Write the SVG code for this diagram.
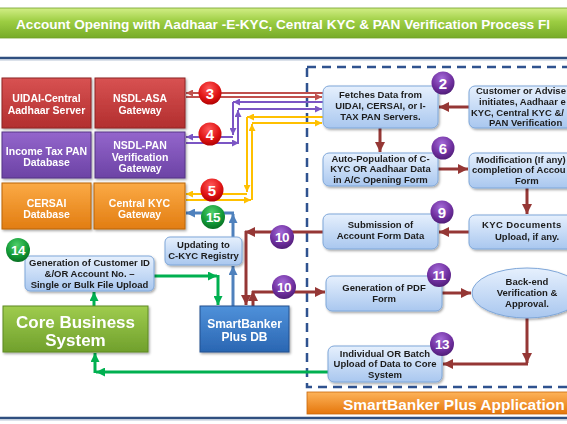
<svg xmlns="http://www.w3.org/2000/svg" width="567" height="424" viewBox="0 0 567 424">
<defs>
<style>
.t{font-family:"Liberation Sans",Arial,sans-serif;font-weight:bold;}
.wt{fill:#ffffff;font-size:10.5px;text-anchor:middle;}
.bt{fill:#1c1c1c;font-size:9.5px;}
.bc{text-anchor:middle;}
.num{fill:#ffffff;font-size:15px;text-anchor:middle;}
.num2{fill:#ffffff;font-size:13.5px;text-anchor:middle;letter-spacing:-0.6px;}
.lb{fill:url(#gBlue);stroke:#7fa7d9;stroke-width:1;}
.ln{fill:none;}
.red{stroke:#c0504d;stroke-width:2;}
.pur{stroke:#7b55c4;stroke-width:2;}
.yel{stroke:#ffc000;stroke-width:2;}
.blu{stroke:#4f81bd;stroke-width:3;}
.grn{stroke:#00b050;stroke-width:3;}
.mar{stroke:#953735;stroke-width:3;}
</style>
<linearGradient id="gTitle" x1="0" y1="0" x2="0" y2="1"><stop offset="0" stop-color="#d2ee86"/><stop offset="0.45" stop-color="#9ccd42"/><stop offset="1" stop-color="#77ab28"/></linearGradient>
<linearGradient id="gOrgBar" x1="0" y1="0" x2="0" y2="1"><stop offset="0" stop-color="#fdb35a"/><stop offset="1" stop-color="#e5760b"/></linearGradient>
<linearGradient id="gRed" x1="0" y1="0" x2="0" y2="1"><stop offset="0" stop-color="#d85252"/><stop offset="1" stop-color="#b22e2e"/></linearGradient>
<linearGradient id="gPur" x1="0" y1="0" x2="0" y2="1"><stop offset="0" stop-color="#9466cc"/><stop offset="1" stop-color="#6c43a5"/></linearGradient>
<linearGradient id="gOrg" x1="0" y1="0" x2="0" y2="1"><stop offset="0" stop-color="#fbaa45"/><stop offset="1" stop-color="#e27d12"/></linearGradient>
<linearGradient id="gBlue" x1="0" y1="0" x2="0" y2="1"><stop offset="0" stop-color="#e6f0fd"/><stop offset="1" stop-color="#a9c7ef"/></linearGradient>
<linearGradient id="gGrn" x1="0" y1="0" x2="0" y2="1"><stop offset="0" stop-color="#9fcc4e"/><stop offset="1" stop-color="#70a02c"/></linearGradient>
<linearGradient id="gDB" x1="0" y1="0" x2="0" y2="1"><stop offset="0" stop-color="#4f91da"/><stop offset="1" stop-color="#2a66b2"/></linearGradient>
<radialGradient id="cRed" cx="0.45" cy="0.3" r="0.75"><stop offset="0" stop-color="#ff5a5a"/><stop offset="0.6" stop-color="#e01414"/><stop offset="1" stop-color="#a80000"/></radialGradient>
<radialGradient id="cGrn" cx="0.45" cy="0.3" r="0.75"><stop offset="0" stop-color="#4fd06a"/><stop offset="0.6" stop-color="#139a37"/><stop offset="1" stop-color="#06671f"/></radialGradient>
<radialGradient id="cPur" cx="0.45" cy="0.3" r="0.75"><stop offset="0" stop-color="#a46ad8"/><stop offset="0.6" stop-color="#7030a0"/><stop offset="1" stop-color="#4a1a70"/></radialGradient>
<filter id="sh" x="-10%" y="-10%" width="130%" height="140%"><feDropShadow dx="1.2" dy="1.5" stdDeviation="1" flood-color="#000" flood-opacity="0.35"/></filter>
<marker id="aRed" viewBox="0 0 10 10" refX="10" refY="5" markerWidth="7" markerHeight="7" markerUnits="userSpaceOnUse" orient="auto"><path d="M0,0 L10,5 L0,10 z" fill="#c0504d"/></marker>
<marker id="aPur" viewBox="0 0 10 10" refX="10" refY="5" markerWidth="7" markerHeight="7" markerUnits="userSpaceOnUse" orient="auto"><path d="M0,0 L10,5 L0,10 z" fill="#7b55c4"/></marker>
<marker id="aYel" viewBox="0 0 10 10" refX="10" refY="5" markerWidth="7" markerHeight="7" markerUnits="userSpaceOnUse" orient="auto"><path d="M0,0 L10,5 L0,10 z" fill="#ffc000"/></marker>
<marker id="aBlu" viewBox="0 0 10 10" refX="10" refY="5" markerWidth="9" markerHeight="9" markerUnits="userSpaceOnUse" orient="auto"><path d="M0,0 L10,5 L0,10 z" fill="#4f81bd"/></marker>
<marker id="aGrn" viewBox="0 0 10 10" refX="10" refY="5" markerWidth="9" markerHeight="9" markerUnits="userSpaceOnUse" orient="auto"><path d="M0,0 L10,5 L0,10 z" fill="#00b050"/></marker>
<marker id="aMar" viewBox="0 0 10 10" refX="10" refY="5" markerWidth="10" markerHeight="10" markerUnits="userSpaceOnUse" orient="auto"><path d="M0,0 L10,5 L0,10 z" fill="#953735"/></marker>
</defs>

<rect x="0" y="0" width="567" height="424" fill="#ffffff"/>

<!-- title bar -->
<g id="title">
<rect x="-6" y="8" width="590" height="30" rx="4" fill="url(#gTitle)" stroke="#6f9e27" stroke-width="0.8"/>
<text class="t" x="16" y="28.5" font-size="13.6" fill="#ffffff">Account Opening with Aadhaar -E-KYC, Central KYC &amp; PAN Verification Process Fl</text>
</g>
<line x1="0" y1="58" x2="567" y2="58" stroke="#2f4f80" stroke-width="2.5"/>
<line x1="0" y1="60" x2="567" y2="60" stroke="#b7c4d6" stroke-width="1"/>
<line x1="0" y1="418" x2="567" y2="418" stroke="#2f4f80" stroke-width="2.5"/>
<line x1="0" y1="420" x2="567" y2="420" stroke="#b7c4d6" stroke-width="1"/>

<!-- dashed application boundary -->
<rect id="app-boundary" x="307" y="67" width="300" height="320" fill="none" stroke="#2f528f" stroke-width="2.5" stroke-dasharray="9,6"/>

<!-- connectors -->
<g id="connectors" class="ln">
<path class="red" d="M323,93 H186" marker-end="url(#aRed)"/>
<path class="red" d="M186,97 H322" marker-end="url(#aRed)"/>
<path class="pur" d="M323,102 H233" marker-end="url(#aPur)"/>
<path class="pur" d="M233,102 V135" marker-end="url(#aPur)"/>
<path class="pur" d="M233,137 H186" marker-end="url(#aPur)"/>
<path class="pur" d="M186,143 H239" marker-end="url(#aPur)"/>
<path class="pur" d="M238,143 V110" marker-end="url(#aPur)"/>
<path class="pur" d="M238,109 H322" marker-end="url(#aPur)"/>
<path class="yel" d="M323,117 H247" marker-end="url(#aYel)"/>
<path class="yel" d="M247,117 V192" marker-end="url(#aYel)"/>
<path class="yel" d="M247,194 H186" marker-end="url(#aYel)"/>
<path class="yel" d="M186,200 H251" marker-end="url(#aYel)"/>
<path class="yel" d="M252,200 V124" marker-end="url(#aYel)"/>
<path class="yel" d="M252,123 H322" marker-end="url(#aYel)"/>
<path class="blu" d="M233,237 V214" marker-end="url(#aBlu)"/>
<path class="blu" d="M234,213 H186" marker-end="url(#aBlu)"/>
<path class="blu" d="M233,306 V266" marker-end="url(#aBlu)"/>
<path class="grn" d="M154,276 H217" marker-end="url(#aGrn)"/>
<path class="grn" d="M218,275 V305" marker-end="url(#aGrn)"/>
<path class="grn" d="M94,306 V292" marker-end="url(#aGrn)"/>
<path class="grn" d="M328,372 H96" marker-end="url(#aGrn)"/>
<path class="grn" d="M95,373 V353" marker-end="url(#aGrn)"/>
<path class="mar" d="M469,107 H439" marker-end="url(#aMar)"/>
<path class="mar" d="M380,128 V152" marker-end="url(#aMar)"/>
<path class="mar" d="M438,169 H468" marker-end="url(#aMar)"/>
<path class="mar" d="M527,188 V214" marker-end="url(#aMar)"/>
<path class="mar" d="M469,232 H439" marker-end="url(#aMar)"/>
<path class="mar" d="M323,232 H245" marker-end="url(#aMar)"/>
<path class="mar" d="M246,231 V305" marker-end="url(#aMar)"/>
<path class="mar" d="M253,306 V291" marker-end="url(#aMar)"/>
<path class="mar" d="M252,292 H325" marker-end="url(#aMar)"/>
<path class="mar" d="M442,293 H471" marker-end="url(#aMar)"/>
<path class="mar" d="M527,318 V363" marker-end="url(#aMar)"/>
<path class="mar" d="M528,364 H443" marker-end="url(#aMar)"/>
</g>

<!-- left external systems -->
<g id="uidai" filter="url(#sh)">
<rect x="2" y="78" width="89" height="50" fill="url(#gRed)" stroke="#8e2424"/>
<text class="t wt" x="46.5" y="102">UIDAI-Central</text>
<text class="t wt" x="46.5" y="114">Aadhaar Server</text>
</g>
<g id="nsdl-asa" filter="url(#sh)">
<rect x="95" y="78" width="90" height="50" fill="url(#gRed)" stroke="#8e2424"/>
<text class="t wt" x="140" y="102">NSDL-ASA</text>
<text class="t wt" x="140" y="114">Gateway</text>
</g>
<g id="itax" filter="url(#sh)">
<rect x="2" y="132" width="89" height="46" fill="url(#gPur)" stroke="#553585"/>
<text class="t wt" x="46.5" y="155">Income Tax PAN</text>
<text class="t wt" x="46.5" y="166">Database</text>
</g>
<g id="nsdl-pan" filter="url(#sh)">
<rect x="95" y="132" width="90" height="46" fill="url(#gPur)" stroke="#553585"/>
<text class="t wt" x="140" y="149">NSDL-PAN</text>
<text class="t wt" x="140" y="161">Verification</text>
<text class="t wt" x="140" y="172">Gateway</text>
</g>
<g id="cersai" filter="url(#sh)">
<rect x="2" y="183" width="89" height="46" fill="url(#gOrg)" stroke="#b9650c"/>
<text class="t wt" x="46.5" y="207">CERSAI</text>
<text class="t wt" x="46.5" y="218">Database</text>
</g>
<g id="ckyc" filter="url(#sh)">
<rect x="94" y="183" width="91" height="46" fill="url(#gOrg)" stroke="#b9650c"/>
<text class="t wt" x="139.5" y="207">Central KYC</text>
<text class="t wt" x="139.5" y="218">Gateway</text>
</g>

<g id="updating" filter="url(#sh)">
<rect class="lb" x="165" y="237" width="77" height="28" rx="5"/>
<text class="t bt bc" x="203.5" y="248">Updating to</text>
<text class="t bt bc" x="203.5" y="259">C-KYC Registry</text>
</g>
<g id="gen-cust" filter="url(#sh)">
<rect class="lb" x="25" y="256" width="129" height="35" rx="5"/>
<text class="t bt bc" x="89.5" y="265.5">Generation of Customer ID</text>
<text class="t bt bc" x="89.5" y="276.5">&amp;/OR Account No. –</text>
<text class="t bt bc" x="89.5" y="287.5">Single or Bulk File Upload</text>
</g>
<g id="core" filter="url(#sh)">
<rect x="3" y="306" width="145" height="46" fill="url(#gGrn)" stroke="#5e8a25"/>
<text class="t" x="75.5" y="328" font-size="17" fill="#ffffff" text-anchor="middle">Core Business</text>
<text class="t" x="75.5" y="346" font-size="17" fill="#ffffff" text-anchor="middle">System</text>
</g>
<g id="db" filter="url(#sh)">
<rect x="200" y="306" width="89" height="46" fill="url(#gDB)" stroke="#22508f"/>
<text class="t" x="244.5" y="328" font-size="12" fill="#ffffff" text-anchor="middle">SmartBanker</text>
<text class="t" x="244.5" y="341" font-size="12" fill="#ffffff" text-anchor="middle">Plus DB</text>
</g>

<!-- application steps -->
<g id="fetch" filter="url(#sh)">
<rect class="lb" x="323" y="86" width="115" height="42" rx="6"/>
<text class="t bt bc" x="380.5" y="98">Fetches Data from</text>
<text class="t bt bc" x="380.5" y="109">UIDAI, CERSAI, or I-</text>
<text class="t bt bc" x="380.5" y="120">TAX PAN Servers.</text>
</g>
<g id="initiate" filter="url(#sh)">
<rect class="lb" x="469" y="86" width="140" height="42" rx="6"/>
<text class="t bt" x="476" y="93.5">Customer or Advise</text>
<text class="t bt" x="479" y="104.5">initiates, Aadhaar e</text>
<text class="t bt" x="471" y="115.5">KYC, Central KYC &amp;/</text>
<text class="t bt" x="489" y="126">PAN Verification</text>
</g>
<g id="autopop" filter="url(#sh)">
<rect class="lb" x="323" y="153" width="115" height="33" rx="6"/>
<text class="t bt bc" x="380.5" y="162">Auto-Population of C-</text>
<text class="t bt bc" x="380.5" y="172">KYC OR Aadhaar Data</text>
<text class="t bt bc" x="380.5" y="182.5">in A/C Opening Form</text>
</g>
<g id="modify" filter="url(#sh)">
<rect class="lb" x="469" y="153" width="140" height="35" rx="6"/>
<text class="t bt" x="476" y="162.5">Modification (If any)</text>
<text class="t bt" x="472" y="173">completion of Accou</text>
<text class="t bt" x="515" y="183.5">Form</text>
</g>
<g id="kycdocs" filter="url(#sh)">
<rect class="lb" x="469" y="215" width="140" height="34" rx="6"/>
<text class="t bt" x="482" y="228" letter-spacing="0.4">KYC Documents</text>
<text class="t bt" x="495" y="239.5">Upload, if any.</text>
</g>
<g id="submit" filter="url(#sh)">
<rect class="lb" x="323" y="214" width="115" height="35" rx="6"/>
<text class="t bt bc" x="380.5" y="228">Submission of</text>
<text class="t bt bc" x="380.5" y="239">Account Form Data</text>
</g>
<g id="pdf" filter="url(#sh)">
<rect class="lb" x="326" y="276" width="116" height="35" rx="6"/>
<text class="t bt bc" x="384" y="291">Generation of PDF</text>
<text class="t bt bc" x="384" y="302">Form</text>
</g>
<g id="verify" filter="url(#sh)">
<ellipse cx="527" cy="293" rx="55" ry="25" fill="url(#gBlue)" stroke="#7fa7d9"/>
<text class="t bt bc" x="527" y="284.5">Back-end</text>
<text class="t bt bc" x="527" y="296">Verification &amp;</text>
<text class="t bt bc" x="527" y="307">Approval.</text>
</g>
<g id="upload" filter="url(#sh)">
<rect class="lb" x="328" y="346" width="114" height="36" rx="6"/>
<text class="t bt bc" x="385" y="356.5">Individual OR Batch</text>
<text class="t bt bc" x="385" y="367">Upload of Data to Core</text>
<text class="t bt bc" x="385" y="377.5">System</text>
</g>

<g id="app-label">
<rect x="307" y="392" width="270" height="22" fill="url(#gOrgBar)" stroke="#c9680c" stroke-width="0.8"/>
<text class="t" x="343" y="410" font-size="15.5" fill="#ffffff">SmartBanker Plus Application</text>
</g>

<!-- step badges -->
<g id="badges" class="t">
<g id="b3"><circle cx="210" cy="93" r="11.5" fill="url(#cRed)"/><text class="num" x="210" y="98.5">3</text></g>
<g id="b4"><circle cx="210" cy="134" r="11.5" fill="url(#cRed)"/><text class="num" x="210" y="139.5">4</text></g>
<g id="b5"><circle cx="212" cy="190" r="11.5" fill="url(#cRed)"/><text class="num" x="212" y="195.5">5</text></g>
<g id="b15"><circle cx="213" cy="217" r="12" fill="url(#cGrn)"/><text class="num2" x="213" y="222">15</text></g>
<g id="b14"><circle cx="18" cy="250" r="12" fill="url(#cGrn)"/><text class="num2" x="18" y="255">14</text></g>
<g id="b10a"><circle cx="282" cy="237" r="12" fill="url(#cPur)"/><text class="num2" x="282" y="242">10</text></g>
<g id="b10b"><circle cx="284" cy="287" r="12" fill="url(#cPur)"/><text class="num2" x="284" y="292">10</text></g>
<g id="b2"><circle cx="443" cy="83" r="11.5" fill="url(#cPur)"/><text class="num" x="443" y="88.5">2</text></g>
<g id="b6"><circle cx="443" cy="148" r="11.5" fill="url(#cPur)"/><text class="num" x="443" y="153.5">6</text></g>
<g id="b9"><circle cx="442" cy="212" r="11.5" fill="url(#cPur)"/><text class="num" x="442" y="217.5">9</text></g>
<g id="b11"><circle cx="439" cy="275" r="12" fill="url(#cPur)"/><text class="num2" x="439" y="280">11</text></g>
<g id="b13"><circle cx="442" cy="344" r="12" fill="url(#cPur)"/><text class="num2" x="442" y="349">13</text></g>
</g>
</svg>
